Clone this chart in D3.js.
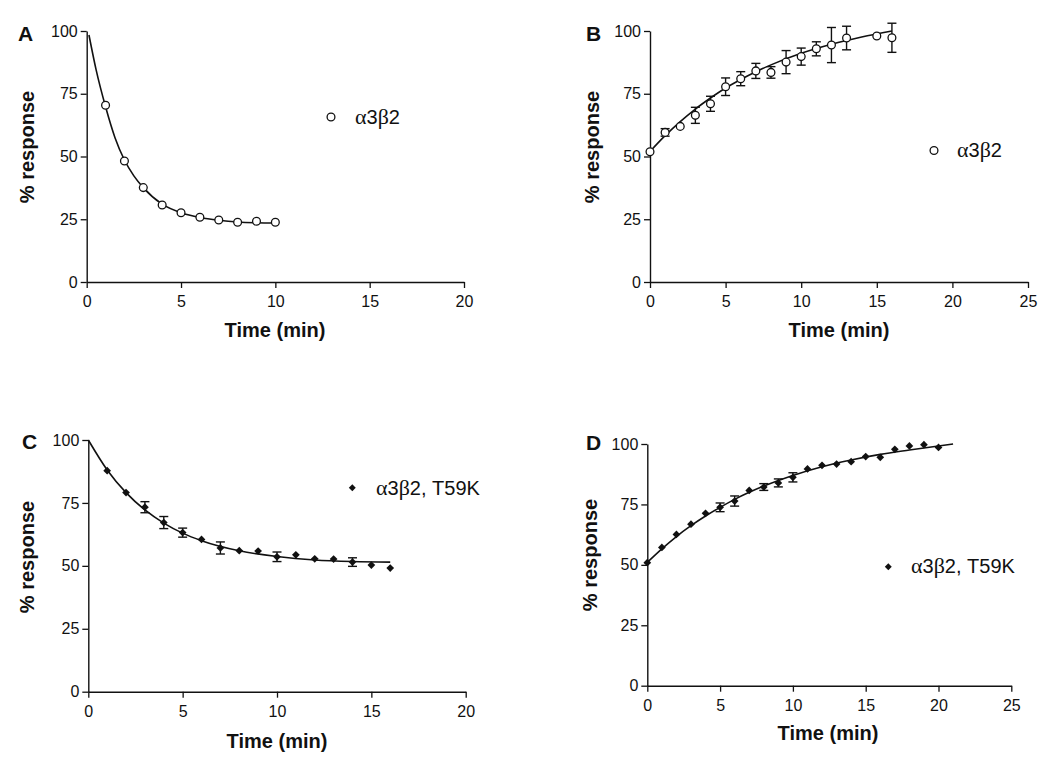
<!DOCTYPE html>
<html>
<head>
<meta charset="utf-8">
<script src="https://cdn.jsdelivr.net/npm/d3@7"></script>
<style>
  html, body { margin: 0; padding: 0; background: #fff; }
  svg { display: block; }
</style>
</head>
<body>
<svg id="chart" width="1050" height="773"></svg>
<script>
// ---------- DATA ----------
const yTicks = [0, 25, 50, 75, 100];
const xTicks20 = [0, 5, 10, 15, 20];
const xTicks25 = [0, 5, 10, 15, 20, 25];

// Panel A (open circles)
const timeA = [1, 2, 3, 4, 5, 6, 7, 8, 9, 10];
const respA = [70.4, 48.2, 37.6, 30.7, 27.6, 25.8, 24.7, 23.8, 24.2, 23.8];
const errA  = [0, 0, 0, 0, 0, 0, 0, 0, 0, 0];
const fitTimeA = [0.12, 0.5, 1, 1.5, 2, 2.5, 3, 4, 5, 6, 7, 8, 9, 10];
const fitRespA = [98.4, 84.5, 69.8, 57.5, 48.6, 42.3, 37.6, 31.0, 27.6, 25.7, 24.6, 23.9, 23.6, 23.5];

// Panel B (open circles)
const timeB = [0, 1, 2, 3, 4, 5, 6, 7, 8, 9, 10, 11, 12, 13, 15, 16];
const respB = [51.9, 59.6, 62.0, 66.4, 71.0, 77.8, 81.0, 84.1, 83.5, 87.6, 89.8, 92.9, 94.4, 97.2, 98.0, 97.3];
const errB  = [0, 1.5, 0, 3.2, 3.0, 3.5, 2.8, 3.0, 2.3, 4.6, 3.4, 2.8, 7.0, 4.7, 0, 5.8];
const fitTimeB = [0, 1, 2, 3, 4, 5, 6, 7, 8, 10, 12, 14, 16];
const fitRespB = [52.0, 58.3, 63.9, 68.9, 73.3, 77.3, 80.7, 83.8, 86.5, 91.1, 94.7, 97.6, 100.0];

// Panel C (filled diamonds)
const timeC = [1, 2, 3, 4, 5, 6, 7, 8, 9, 10, 11, 12, 13, 14, 15, 16];
const respC = [87.8, 79.1, 73.3, 67.2, 63.2, 60.5, 57.1, 56.0, 55.9, 53.6, 54.4, 52.8, 52.7, 51.5, 50.3, 49.1];
const errC  = [0, 0, 2.2, 2.4, 1.8, 0, 2.4, 0, 0, 1.9, 0, 0, 0, 1.7, 0, 0];
const fitTimeC = [0, 1, 2, 3, 4, 5, 6, 8, 10, 12, 14, 16];
const fitRespC = [100, 88.1, 79.1, 72.2, 67.0, 63.0, 60.0, 56.0, 53.7, 52.3, 51.7, 51.5];

// Panel D (filled diamonds)
const timeD = [0, 1, 2, 3, 4, 5, 6, 7, 8, 9, 10, 11, 12, 13, 14, 15, 16, 17, 18, 19, 20];
const respD = [50.9, 57.2, 62.6, 66.8, 71.3, 73.8, 76.4, 80.8, 82.2, 83.9, 86.2, 89.7, 91.2, 91.7, 92.7, 94.8, 94.5, 97.8, 99.2, 99.7, 98.6];
const errD  = [0, 0, 0, 0, 0, 1.8, 2.1, 0, 1.4, 1.65, 1.9, 0, 0, 0, 0, 0, 0, 0, 0, 0, 0];
const fitTimeD = [0, 1, 2, 3, 4, 5, 6, 7, 8, 10, 12, 14, 16, 18, 21];
const fitRespD = [51.0, 56.6, 61.7, 66.2, 70.2, 73.8, 77.1, 80.0, 82.6, 87.0, 90.6, 93.4, 95.7, 97.5, 100.0];

const legendWT = "α3β2";
const legendMut = "α3β2, T59K";
const xTitle = "Time (min)";
const yTitle = "% response";

// ---------- LAYOUT ----------
const panels = [
  { letter: "A", xMax: 20, xTicks: xTicks20, x0: 86.7, x1: 464, yTop: 31, yBot: 282,
    time: timeA, resp: respA, err: errA, fitT: fitTimeA, fitR: fitRespA, marker: "circle",
    legend: legendWT, legX: 331, legY: 117, legTextX: 355, legBase: 124,
    letterX: 18, letterY: 41, xTitleX: 275, xTitleY: 337, yTitleX: 34, yTitleY: 147 },
  { letter: "B", xMax: 25, xTicks: xTicks25, x0: 650, x1: 1028, yTop: 31, yBot: 282,
    time: timeB, resp: respB, err: errB, fitT: fitTimeB, fitR: fitRespB, marker: "circle",
    legend: legendWT, legX: 934, legY: 150.5, legTextX: 957, legBase: 157,
    letterX: 586, letterY: 41, xTitleX: 839, xTitleY: 337, yTitleX: 599, yTitleY: 147 },
  { letter: "C", xMax: 20, xTicks: xTicks20, x0: 88.3, x1: 465.7, yTop: 440, yBot: 691.7,
    time: timeC, resp: respC, err: errC, fitT: fitTimeC, fitR: fitRespC, marker: "diamond",
    legend: legendMut, legX: 352.3, legY: 487.7, legTextX: 376, legBase: 495,
    letterX: 22, letterY: 449, xTitleX: 277, xTitleY: 748, yTitleX: 34, yTitleY: 557 },
  { letter: "D", xMax: 25, xTicks: xTicks25, x0: 647.3, x1: 1011.3, yTop: 444, yBot: 685.7,
    time: timeD, resp: respD, err: errD, fitT: fitTimeD, fitR: fitRespD, marker: "diamond",
    legend: legendMut, legX: 888.3, legY: 566.7, legTextX: 911, legBase: 573,
    letterX: 586, letterY: 450, xTitleX: 828, xTitleY: 740, yTitleX: 597, yTitleY: 555 }
];

const svg = d3.select("#chart");
const FONT = "'Liberation Sans', Arial, Helvetica, sans-serif";
const SERIF = "'Liberation Serif', 'Times New Roman', serif";
const INK = "#111";

function greekText(sel, str) {
  const parts = str.match(/[αβ]|[^αβ]+/g);
  parts.forEach(p => {
    sel.append("tspan")
      .attr("font-family", /[αβ]/.test(p) ? SERIF : FONT)
      .attr("font-size", /[αβ]/.test(p) ? 22 : 20)
      .text(p);
  });
}

panels.forEach(p => {
  const x = d3.scaleLinear().domain([0, p.xMax]).range([p.x0, p.x1]);
  const y = d3.scaleLinear().domain([0, 100]).range([p.yBot, p.yTop]);
  const g = svg.append("g");

  const xAxis = d3.axisBottom(x).tickValues(p.xTicks).tickSize(6).tickPadding(8).tickSizeOuter(0);
  const yAxis = d3.axisLeft(y).tickValues(yTicks).tickSize(6).tickPadding(3).tickSizeOuter(0);

  const gx = g.append("g").attr("transform", `translate(0,${p.yBot})`).call(xAxis);
  const gy = g.append("g").attr("transform", `translate(${p.x0},0)`).call(yAxis);
  [gx, gy].forEach(a => {
    a.select(".domain").attr("stroke", INK).attr("stroke-width", 1.4);
    a.selectAll(".tick line").attr("stroke", INK).attr("stroke-width", 1.3);
    a.selectAll(".tick text").attr("font-family", FONT).attr("font-size", 16).attr("fill", INK);
  });

  const fitData = p.fitT.map((t, i) => [t, p.fitR[i]]);
  g.append("path")
    .datum(fitData)
    .attr("fill", "none")
    .attr("stroke", INK)
    .attr("stroke-width", 1.6)
    .attr("d", d3.line().x(d => x(d[0])).y(d => y(d[1])).curve(d3.curveMonotoneX));

  const pts = p.time.map((t, i) => ({ t, v: p.resp[i], e: p.err[i] }));
  const capW = 4.5;
  const eb = g.append("g").attr("stroke", INK).attr("stroke-width", 1.4);
  pts.filter(d => d.e > 0).forEach(d => {
    const cx = x(d.t), yt = y(d.v + d.e), yb = y(d.v - d.e);
    eb.append("line").attr("x1", cx).attr("x2", cx).attr("y1", yt).attr("y2", yb);
    eb.append("line").attr("x1", cx - capW).attr("x2", cx + capW).attr("y1", yt).attr("y2", yt);
    eb.append("line").attr("x1", cx - capW).attr("x2", cx + capW).attr("y1", yb).attr("y2", yb);
  });

  const drawMarker = (sel, cx, cy, sz) => {
    if (p.marker === "circle") {
      sel.append("circle").attr("cx", cx).attr("cy", cy).attr("r", 3.9)
        .attr("fill", "#fff").attr("stroke", INK).attr("stroke-width", 1.3);
    } else {
      sel.append("path")
        .attr("d", d3.symbol(d3.symbolSquare, sz)())
        .attr("transform", `translate(${cx},${cy}) rotate(45)`)
        .attr("fill", INK);
    }
  };
  pts.forEach(d => drawMarker(g, x(d.t), y(d.v), 30));

  drawMarker(g, p.legX, p.legY, 24);
  const lt = g.append("text").attr("x", p.legTextX).attr("y", p.legBase).attr("fill", INK);
  greekText(lt, p.legend);

  g.append("text").attr("x", p.xTitleX).attr("y", p.xTitleY)
    .attr("text-anchor", "middle").attr("font-family", FONT).attr("font-weight", "bold")
    .attr("font-size", 20).attr("fill", INK).text(xTitle);
  g.append("text")
    .attr("transform", `translate(${p.yTitleX},${p.yTitleY}) rotate(-90)`)
    .attr("text-anchor", "middle").attr("font-family", FONT).attr("font-weight", "bold")
    .attr("font-size", 20).attr("fill", INK).text(yTitle);
  g.append("text").attr("x", p.letterX).attr("y", p.letterY)
    .attr("font-family", FONT).attr("font-weight", "bold").attr("font-size", 21)
    .attr("fill", INK).text(p.letter);
});
</script>
</body>
</html>
